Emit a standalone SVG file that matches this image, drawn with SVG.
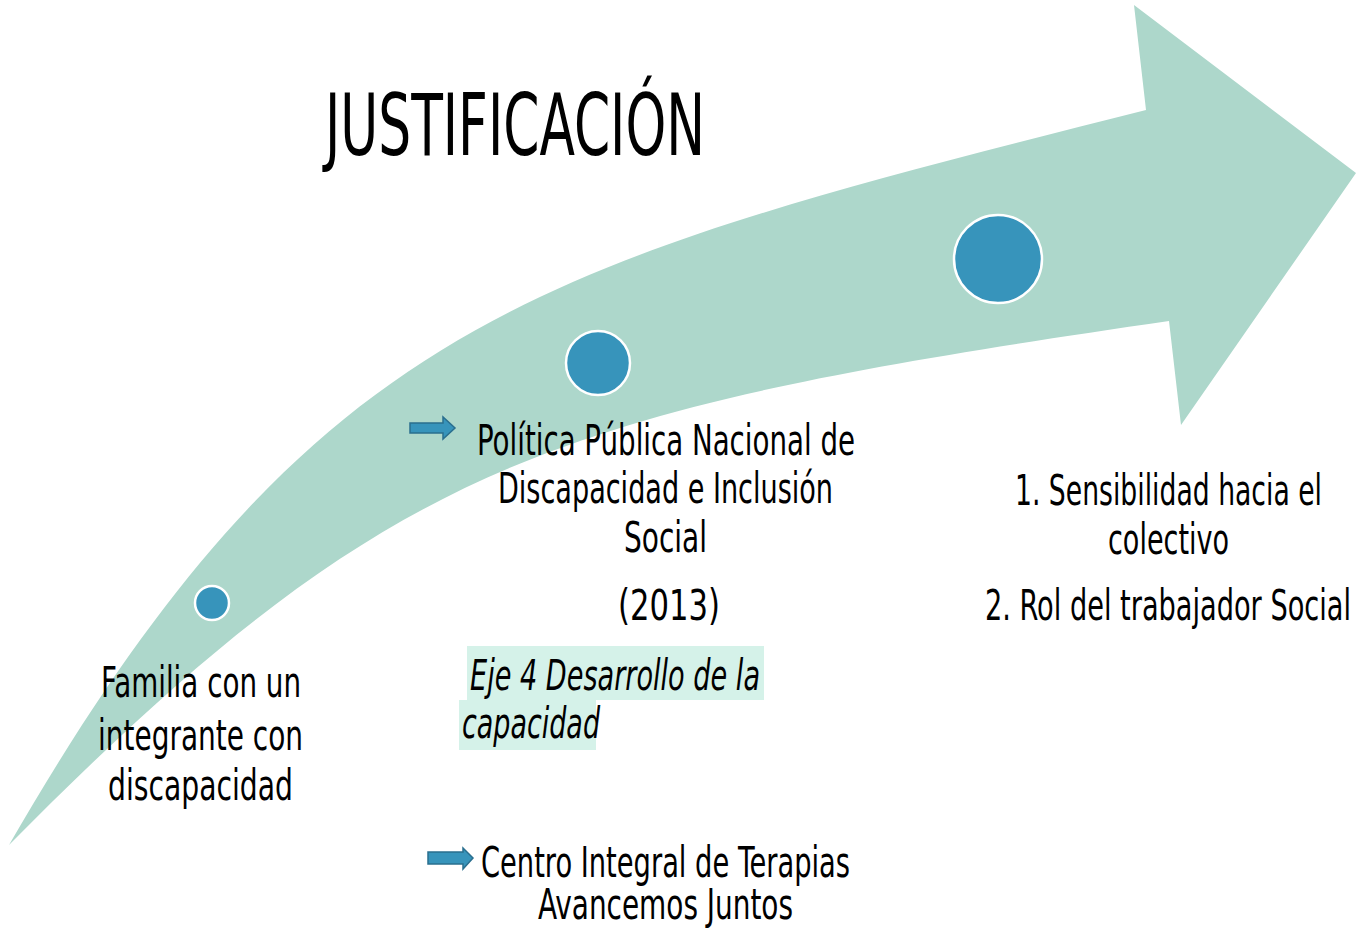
<svg xmlns="http://www.w3.org/2000/svg" width="1361" height="928" viewBox="0 0 1361 928">
<style>
.t{font-family:'Liberation Sans Narrow','DejaVu Sans Condensed','Liberation Sans',sans-serif;fill:#000;}
.b{font-size:42px;}
.dot{fill:#3794BB;stroke:#fff;stroke-width:2.5;}
.ba{fill:#3794BB;stroke:#2A6F8F;stroke-width:1.5;}
</style>
<rect width="1361" height="928" fill="#fff"/>
<g id="big-arrow">
<path d="M9,845 C312,320 531,265 1146,110 L1134,5 L1356,173 L1181,425 L1169,321 C550,411 391,459 9,845 Z" fill="#ADD7CB"/>
</g>
<g id="title"><text class="t" x="325" y="155" font-size="86" textLength="380" lengthAdjust="spacingAndGlyphs">JUSTIFICACIÓN</text></g>
<g id="node1">
<circle class="dot" cx="212" cy="603" r="17"/>
<text class="t b" x="101" y="697" textLength="200" lengthAdjust="spacingAndGlyphs">Familia con un</text>
<text class="t b" x="98" y="750" textLength="205" lengthAdjust="spacingAndGlyphs">integrante con</text>
<text class="t b" x="108" y="800" textLength="185" lengthAdjust="spacingAndGlyphs">discapacidad</text>
</g>
<g id="node2">
<circle class="dot" cx="598" cy="363" r="32"/>
<text class="t b" x="477" y="455" textLength="378" lengthAdjust="spacingAndGlyphs">Política Pública Nacional de</text>
<text class="t b" x="498" y="503" textLength="335" lengthAdjust="spacingAndGlyphs">Discapacidad e Inclusión</text>
<text class="t b" x="624" y="552" textLength="83" lengthAdjust="spacingAndGlyphs">Social</text>
<text class="t b" x="618" y="620" textLength="102" lengthAdjust="spacingAndGlyphs">(2013)</text>
</g>
<g id="eje4">
<rect x="467" y="646" width="297" height="54" fill="#D5F2E9"/>
<rect x="459" y="700" width="137" height="50" fill="#D5F2E9"/>
<text class="t b" x="470" y="690" font-style="italic" textLength="290" lengthAdjust="spacingAndGlyphs">Eje 4 Desarrollo de la</text>
<text class="t b" x="462" y="738" font-style="italic" textLength="138" lengthAdjust="spacingAndGlyphs">capacidad</text>
</g>
<g id="node3">
<circle class="dot" cx="998" cy="259" r="44"/>
<text class="t b" x="1015" y="505" textLength="307" lengthAdjust="spacingAndGlyphs">1. Sensibilidad hacia el</text>
<text class="t b" x="1108" y="554" textLength="121" lengthAdjust="spacingAndGlyphs">colectivo</text>
<text class="t b" x="985" y="620" textLength="366" lengthAdjust="spacingAndGlyphs">2. Rol del trabajador Social</text>
</g>
<g id="centro">
<text class="t b" x="481" y="877" textLength="369" lengthAdjust="spacingAndGlyphs">Centro Integral de Terapias</text>
<text class="t b" x="538" y="919" textLength="255" lengthAdjust="spacingAndGlyphs">Avancemos Juntos</text>
</g>
<g id="connectors">
<path class="ba" d="M410,423 L443,423 L443,417 L455,428 L443,439 L443,433 L410,433 Z"/>
<path class="ba" d="M428,852 L463,852 L463,848 L473,858 L463,869 L463,864 L428,864 Z"/>
</g>
</svg>
